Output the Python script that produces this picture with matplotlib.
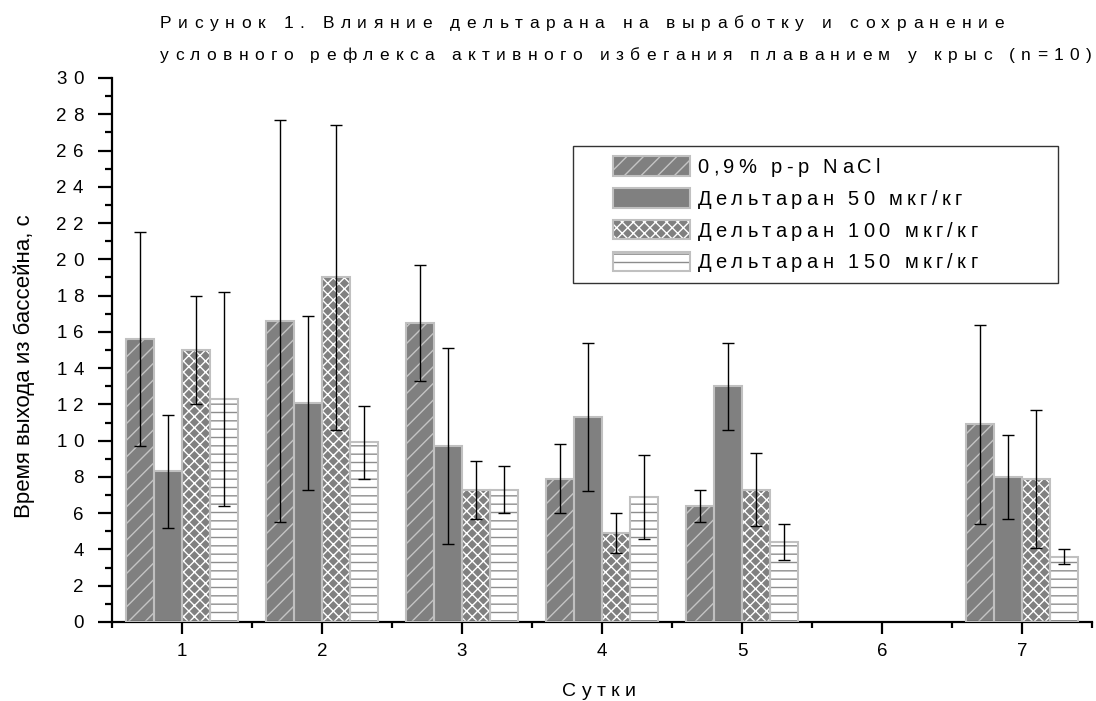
import matplotlib
matplotlib.use('Agg')
import matplotlib.pyplot as plt
import matplotlib.text as mtext
import numpy as np
from matplotlib.patches import Patch
from matplotlib.legend_handler import HandlerTuple
from matplotlib.ticker import MultipleLocator
from matplotlib.font_manager import findfont, get_font
from matplotlib.transforms import IdentityTransform

plt.rcParams['font.family'] = ['Liberation Sans', 'DejaVu Sans']
plt.rcParams['hatch.linewidth'] = 1.0

nan = np.nan
days = [1, 2, 3, 4, 5, 6, 7]
day_labels = ['1', '2', '3', '4', '5', '6', '7']
series_names = ['0,9% р-р NaCl', 'Дельтаран 50 мкг/кг',
                'Дельтаран 100 мкг/кг', 'Дельтаран 150 мкг/кг']
nacl = [15.6, 16.6, 16.5, 7.9, 6.4, nan, 10.9]
nacl_sd = [5.9, 11.1, 3.2, 1.9, 0.9, nan, 5.5]
d50 = [8.3, 12.1, 9.7, 11.3, 13.0, nan, 8.0]
d50_sd = [3.1, 4.8, 5.4, 4.1, 2.4, nan, 2.3]
d100 = [15.0, 19.0, 7.3, 4.9, 7.3, nan, 7.9]
d100_sd = [3.0, 8.4, 1.6, 1.1, 2.0, nan, 3.8]
d150 = [12.3, 9.9, 7.3, 6.9, 4.4, nan, 3.6]
d150_sd = [5.9, 2.0, 1.3, 2.3, 1.0, nan, 0.4]

title1 = 'Рисунок 1. Влияние дельтарана на выработку и сохранение'
title2 = 'условного рефлекса активного избегания плаванием у крыс (n=10)'
xlabel = 'Сутки'
ylabel = 'Время выхода из бассейна, с'


# ---- letter-spaced text: one Text object whose glyphs are drawn with extra tracking
_orig_metrics = mtext._get_text_metrics_with_cache


class TrackedText(mtext.Text):
    _tracking = 0.0  # extra pixels between characters

    def _get_layout(self, renderer):
        trk = getattr(self, '_tracking', 0.0)
        lines = set(self.get_text().split('\n'))

        def wrapped(*args, **kwargs):
            w, h, d = _orig_metrics(*args, **kwargs)
            text = args[1] if len(args) > 1 else kwargs.get('text', '')
            if text in lines and len(text) > 1:
                w = w + trk * (len(text) - 1)
            return w, h, d

        mtext._get_text_metrics_with_cache = wrapped
        try:
            return super()._get_layout(renderer)
        finally:
            mtext._get_text_metrics_with_cache = _orig_metrics

    def draw(self, renderer):
        if renderer is not None:
            self._renderer = renderer
        if not self.get_visible() or self.get_text() == '':
            return
        trk = getattr(self, '_tracking', 0.0)
        bbox, info, descent = self._get_layout(renderer)
        posx, posy = self.get_transform().transform(self.get_unitless_position())
        if not (np.isfinite(posx) and np.isfinite(posy)):
            return
        prop = self.get_fontproperties()
        fig = self.get_figure(root=True)
        font = get_font(findfont(prop))
        renderer.open_group('trackedtext', self.get_gid())
        for line, wh, x, y in info:
            cx = posx + x
            cy = posy + y
            for ch in line:
                if ch.strip():
                    t = mtext.Text(cx, cy, ch, color=self.get_color(),
                                   fontproperties=prop, ha='left', va='baseline',
                                   transform=IdentityTransform(),
                                   alpha=self.get_alpha())
                    t.set_figure(fig)
                    t.set_clip_on(False)
                    t.draw(renderer)
                font.set_size(prop.get_size_in_points(), fig.dpi)
                g = font.load_char(ord(ch))
                cx += g.linearHoriAdvance / 65536.0 + trk
        renderer.close_group('trackedtext')
        self.stale = False


def track(txt, px):
    txt.__class__ = TrackedText
    txt._tracking = px
    return txt


values = [nacl, d50, d100, d150]
errors = [nacl_sd, d50_sd, d100_sd, d150_sd]
faces = ['#808080', '#808080', '#808080', '#ffffff']
hatch_cols = ['#c4c4c4', '#808080', '#ffffff', '#8c8c8c']
hatches = ['//', None, 'xxx', '--']
offsets = [-0.3, -0.1, 0.1, 0.3]
width = 0.2
border = '#c0c0c0'

W, H = 1096, 701
fig = plt.figure(figsize=(W / 100, H / 100), dpi=100)
ax = fig.add_axes([112 / W, 1 - 622 / H, 980 / W, 544 / H])

handles = []
x = np.array(days, dtype=float)
for i in range(4):
    xs = x + offsets[i]
    ax.bar(xs, values[i], width=width, color=faces[i], edgecolor=hatch_cols[i],
           hatch=hatches[i], linewidth=0, zorder=2)
    ax.bar(xs, values[i], width=width, fill=False, edgecolor=border,
           linewidth=1.5, zorder=3)
    ax.errorbar(xs, values[i], yerr=errors[i], fmt='none', ecolor='black',
                elinewidth=1.0, capsize=4, capthick=1.0, zorder=4)
    p1 = Patch(facecolor=faces[i], edgecolor=hatch_cols[i], hatch=hatches[i], linewidth=0)
    p2 = Patch(fill=False, edgecolor=border, linewidth=1.5)
    handles.append((p1, p2))

ax.set_xlim(0.5, 7.5)
ax.set_ylim(0, 30)
ax.xaxis.set_major_locator(MultipleLocator(1))
ax.xaxis.set_minor_locator(MultipleLocator(0.5))
ax.yaxis.set_major_locator(MultipleLocator(2))
ax.yaxis.set_minor_locator(MultipleLocator(1))
ax.set_xticks(days)
ax.set_xticklabels(day_labels)
for s in ['top', 'right']:
    ax.spines[s].set_visible(False)
for s in ['left', 'bottom']:
    ax.spines[s].set_linewidth(1.6)
ax.tick_params(axis='y', which='major', direction='out', length=10, width=1.6,
               labelsize=13.5, pad=10.5)
ax.tick_params(axis='y', which='minor', direction='out', length=4.8, width=1.6)
ax.tick_params(axis='x', which='major', direction='out', length=8.4, width=1.6,
               labelsize=13.5, pad=7)
ax.tick_params(axis='x', which='minor', direction='out', length=4.3, width=1.6)

for tk in ax.yaxis.get_major_ticks():
    track(tk.label1, 6.5)

fs_leg = 14.5
fs_px = fs_leg * 100 / 72
leg = ax.legend(handles, series_names,
                handler_map={tuple: HandlerTuple(ndivide=1, xpad=30 / fs_px)},
                loc='upper left', bbox_to_anchor=(0.4704, 0.0, 0.4949, 0.875),
                mode='expand', fontsize=fs_leg,
                handlelength=107 / fs_px, handleheight=1.1, labelspacing=0.56,
                borderpad=0.52, handletextpad=0.35, fancybox=False,
                edgecolor='#333333', framealpha=1, borderaxespad=0)
leg.get_frame().set_linewidth(1.0)
for t in leg.get_texts():
    track(t, 4.35)

track(fig.text(160 / W, 1 - 28 / H, title1, ha='left', va='baseline',
               fontsize=12.5), 6.6)
track(fig.text(160 / W, 1 - 60 / H, title2, ha='left', va='baseline',
               fontsize=12.5), 6.37)
fig.text(24 / W, 1 - 366 / H, ylabel, ha='center', va='center', rotation=90,
         fontsize=16)
track(fig.text(599 / W, 1 - 696 / H, xlabel, ha='center', va='baseline',
               fontsize=14), 5.3)

fig.savefig('out.png', dpi=100)
